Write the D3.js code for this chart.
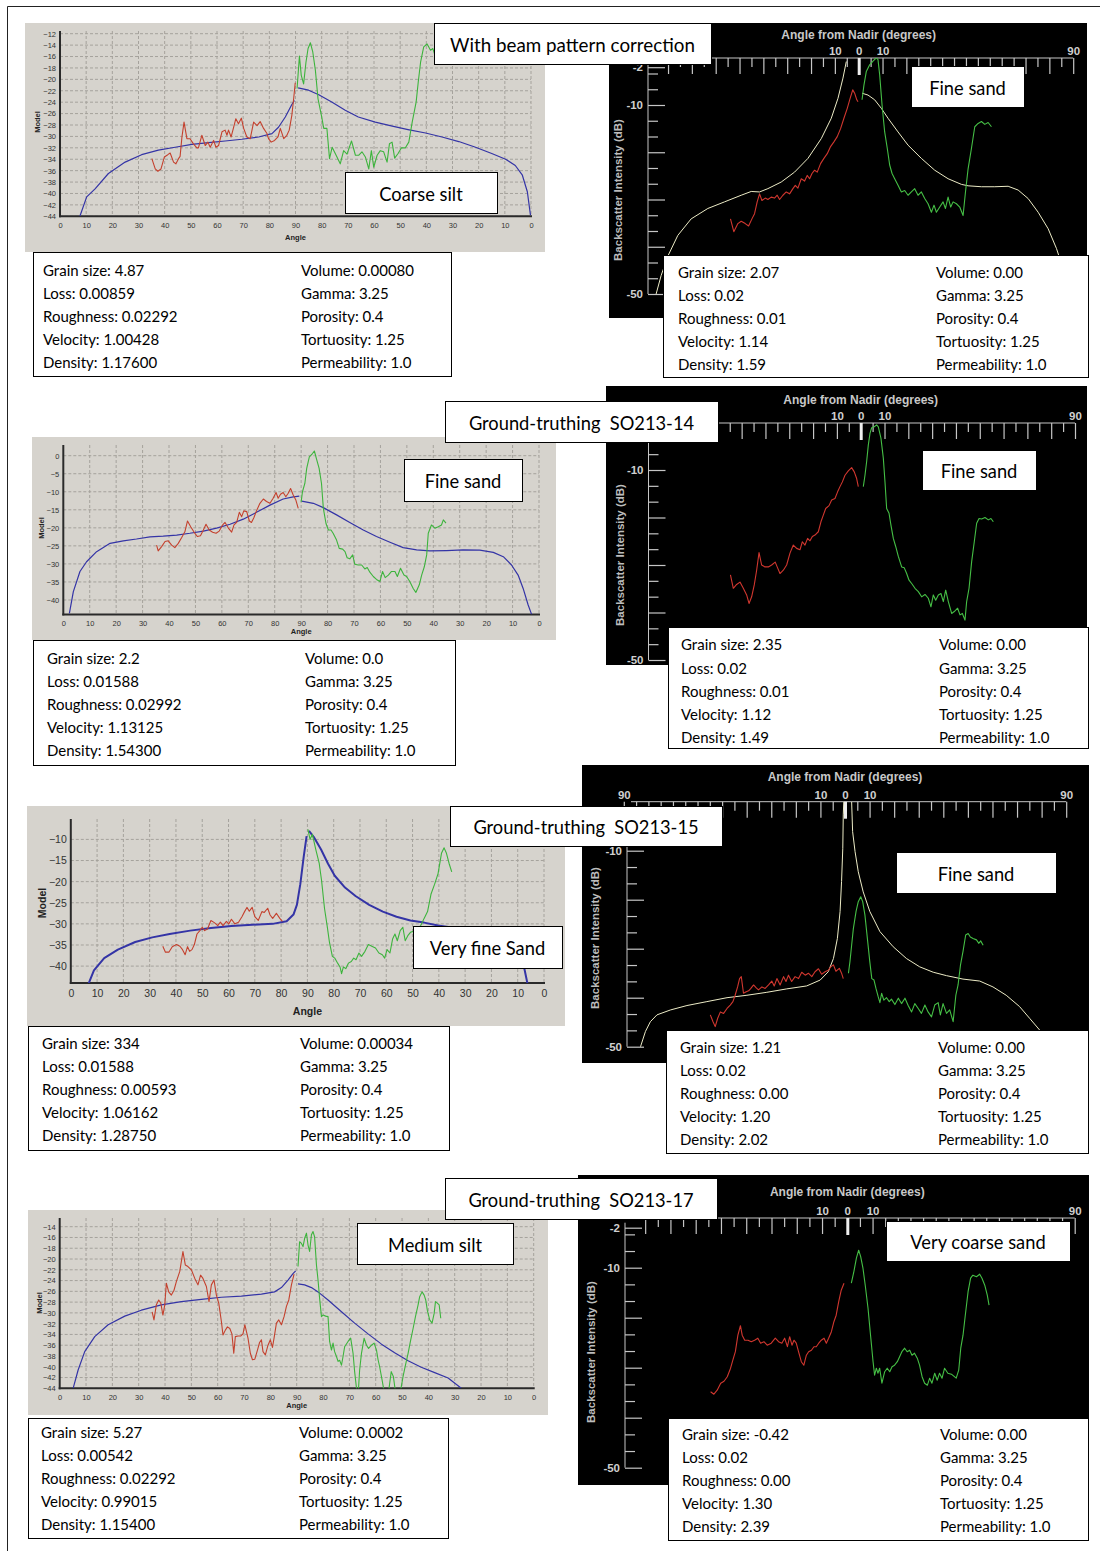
<!DOCTYPE html>
<html><head><meta charset="utf-8">
<script src="https://cdn.jsdelivr.net/npm/d3@7"></script>
<style>
html,body{margin:0;padding:0;background:#fff;}
svg{display:block;}
</style></head><body>
<svg id="fig" width="1100" height="1551"></svg>
<script>
// ===================== data =====================
// Composite angle axis of the model plots: 0..90 (port) then 90..0 (starboard)
const greyAngleTicks = d3.range(0, 181, 10);
const greyAngleLabels = ["0","10","20","30","40","50","60","70","80","90","80","70","60","50","40","30","20","10","0"];
const nadirTickValues = d3.range(-90, 91, 5);

// --- Coarse silt model (row 1) : [angle, dB]
const coarseSiltModelPort = [[7.6,-44],[10.2,-40.6],[13.4,-39.2],[18.5,-36.5],[24.9,-34.5],[31.2,-33.2],[37.6,-32.4],[44,-31.9],[50.4,-31.4],[56.8,-31.1],[63.1,-30.8],[69.5,-30.5],[75.9,-30.1],[81,-29.5],[83.5,-28.4],[86.1,-26.6],[88.6,-24.4],[89.6,-23.7]];
const coarseSiltModelStbd = [[89,-21.5],[85,-21.9],[81.1,-22.7],[76,-24],[71,-25.4],[66,-26.6],[59.5,-27.5],[53,-28.2],[47,-28.8],[40.3,-29.4],[34,-30.1],[27.6,-30.9],[21.2,-31.9],[15,-33],[9.7,-34],[6,-35.1],[3.3,-36.8],[1.4,-39.7],[0.2,-43.8]];
const coarseSiltPort = [[35.1,-33.9],[36.4,-35.7],[37.4,-36.1],[38.6,-35.7],[39.9,-33.6],[41.2,-33.2],[42.1,-32.9],[43.4,-34.5],[44.3,-34.8],[45.3,-33.9],[45.9,-33.5],[46.6,-30.1],[47.4,-27.5],[48.5,-30.4],[49.7,-30.4],[51,-31.3],[52.3,-32],[52.9,-32],[54.2,-29.8],[55.5,-31.6],[56.5,-31],[57.4,-31.9],[58.7,-30.7],[59.6,-31.9],[60.6,-31.6],[61.9,-29.2],[63.1,-28.9],[63.8,-29.8],[64.4,-28.9],[65.4,-30.1],[66.3,-28.5],[67.2,-26.9],[68.2,-27.8],[69.3,-26.8],[70.2,-28.6],[71.4,-30.1],[72.7,-30.4],[74,-27.5],[75.3,-28.1],[76.5,-27.4],[77.8,-28.6],[79.1,-29.5],[79.7,-30.4],[80.7,-31],[82,-30.7],[83.3,-30.1],[84.2,-28.6],[85.5,-30.4],[86.7,-29.8],[87.6,-28.9],[88.6,-26.3],[89.3,-23.4],[89.9,-20.6]];
const coarseSiltStbd = [[89.4,-21.6],[88.5,-15.9],[87.8,-19.3],[86.9,-20.8],[86,-17],[85.2,-14.6],[84.3,-13.6],[83.4,-15.2],[82.4,-18.4],[81.4,-23.4],[80.1,-26.3],[79.2,-28.6],[78,-28.6],[77,-33.9],[76,-31.9],[74.8,-33],[72.9,-34.8],[71.6,-32.5],[70.3,-33.1],[68.6,-30.8],[67.1,-33.3],[65.8,-33.3],[64.6,-32.7],[63.3,-33.6],[62,-35.7],[61,-32.5],[60.1,-35.4],[58.8,-33.3],[57.6,-32.5],[56.3,-32.7],[55,-34.5],[54.1,-31.3],[53.1,-31],[52.1,-33.8],[50.8,-33],[49.5,-32],[48,-32],[46.7,-31],[45.4,-27.5],[43.9,-24],[43.1,-20.5],[42.2,-17],[41,-14.3],[39.7,-13.8],[38.4,-14.9],[37.5,-14.6],[36.7,-15.8],[35.5,-16.2]];

// --- Fine sand observation (row 1) : [angle from nadir, dB]
const fineSandAModelPort = [[-85,-50],[-82.9,-46.1],[-80,-41.9],[-75.9,-37.6],[-70.3,-34.1],[-63.3,-31.9],[-56.3,-30.5],[-49.3,-29.1],[-45.1,-28.3],[-41.6,-28.4],[-38.1,-27.7],[-32.5,-26.3],[-26.9,-24.2],[-21.3,-21.3],[-15.7,-17.1],[-11.5,-12.8],[-8.7,-8.6],[-6.6,-4.3],[-5.2,-0.8]];
const fineSandAModelStbd = [[1.4,-7.5],[3.9,-7.9],[6.7,-8.9],[9.5,-10.7],[12.3,-12.8],[16.5,-15.7],[20.7,-18.5],[26.3,-21.3],[31.9,-23.8],[37.5,-25.6],[43.1,-26.8],[45.9,-27.1],[51.5,-27.3],[57.1,-27.3],[62.7,-27.2],[66.9,-28],[71.1,-29.8],[75.3,-32.7],[79.5,-36.2],[83,-40.4],[85.8,-44.7],[87.9,-48.9]];
const fineSandAPort = [[-53.8,-34.1],[-52.4,-36.8],[-50.7,-35.1],[-49.3,-34.6],[-47.6,-35.1],[-46.2,-35.6],[-44.8,-34.1],[-43.7,-33],[-42.6,-30.5],[-41.6,-28.8],[-40.6,-30.2],[-39.2,-29.7],[-38.1,-30],[-36.7,-29.5],[-35.3,-29.7],[-34.2,-29.1],[-33.2,-30],[-31.8,-29.1],[-30.4,-28.4],[-29,-28.8],[-27.6,-27.7],[-26.6,-27],[-25.5,-27.6],[-24.1,-25.6],[-22.7,-26.1],[-21.6,-24.9],[-20.6,-25.6],[-19.6,-24.5],[-18.5,-23.8],[-17.4,-24.2],[-16,-22.4],[-14.6,-21.3],[-13.2,-20.3],[-11.8,-18.8],[-10.4,-17.8],[-9,-16.7],[-7.6,-15],[-6.2,-12.8],[-4.8,-10.7],[-3.6,-8.6],[-2.5,-6.8],[-1.7,-7.5],[-0.8,-8.9],[-0.3,-9.3]];
const fineSandAStbd = [[1.4,-8.9],[2.2,-5.8],[3.2,-2.9],[4.6,-1.5],[6,-0.7],[7.4,0],[8.1,-0.4],[8.8,-3.6],[9.8,-10],[10.9,-15.7],[12,-19.2],[13,-22.7],[14,-24.5],[15.1,-25.6],[16.5,-27],[17.9,-28.4],[19.3,-28.1],[20.7,-29.1],[22.1,-28.4],[23.5,-27.7],[24.9,-29.1],[26.3,-28.4],[27.7,-29.8],[29.1,-30.9],[30.5,-32.7],[31.6,-31.2],[32.6,-32.7],[34,-31.6],[35.4,-30.5],[36.4,-31.9],[37.5,-29.5],[38.6,-31.6],[39.6,-30.5],[41,-30.9],[42.4,-31.6],[43.8,-33.4],[44.8,-28.4],[45.9,-23.5],[47.3,-19.2],[48.7,-14.6],[50.1,-13.9],[51.5,-13.5],[52.9,-14.1],[54.3,-13.7],[55.7,-14.6]];

// --- Fine sand model (row 2, SO213-14)
const fineSandModelPort = [[2.3,-43.7],[3.8,-37.7],[6.3,-32.1],[8.8,-29.4],[12.6,-26.6],[17.7,-24.3],[22.7,-23.6],[27.7,-23.1],[32.8,-22.5],[37.8,-22.3],[42.9,-22],[47.9,-21.5],[53,-20.9],[58,-20.1],[63.1,-19],[68.1,-17.6],[73.1,-15.7],[78.2,-13.7],[83.2,-12],[87,-11.4],[89.3,-11.2]];
const fineSandModelStbd = [[89.8,-12.6],[85.4,-13.2],[81.6,-14.4],[76.6,-16.4],[71.6,-18.5],[66.5,-20.6],[61.5,-22.4],[56.4,-24],[51.4,-25.5],[46.3,-26.1],[41.3,-26.4],[35,-26.3],[28.7,-26.1],[22.4,-26.2],[17.3,-26.8],[13.5,-28],[10.4,-30.3],[7.9,-33.1],[6,-36.8],[4.1,-41.4],[2.8,-44]];
const fineSandPort = [[35.3,-24.8],[35.9,-26.4],[37.2,-25.2],[38.5,-23.8],[39.7,-23.6],[41,-24.8],[42.2,-25.5],[43.5,-24.3],[44.8,-22.7],[46,-21.1],[47,-18.1],[48.2,-19.7],[49.4,-21.1],[50.7,-22.4],[51.9,-22.2],[53,-20.6],[54,-19],[55.2,-20.6],[56.5,-21.2],[57.8,-21.5],[59,-20.9],[60.3,-19.2],[61.2,-18.5],[62.4,-20],[63.7,-21.2],[64.6,-19.2],[65.6,-18.5],[66.6,-15.7],[67.5,-16.9],[68.3,-15.3],[69.4,-15.5],[70.4,-18.1],[71.2,-18.5],[72.1,-17.2],[73.1,-15.3],[74.4,-13.2],[75.7,-12],[76.9,-12.7],[78.2,-13.2],[79.4,-11.8],[80.5,-10.2],[81.3,-11.8],[82.2,-10.7],[83.2,-10.2],[84.2,-11.4],[85.1,-10.4],[86,-9.1],[87,-10.9],[88,-12.3],[88.9,-14.6]];
const fineSandStbd = [[90,-12.8],[89.5,-10],[88.6,-7.7],[87.9,-3.5],[86.9,-0.3],[85.7,0.6],[85,1.3],[84.2,-0.9],[83.2,-3.5],[82.3,-7.7],[81.6,-14.6],[80.6,-18.8],[79.7,-20.6],[78.7,-20.6],[77.9,-21.5],[76.6,-23.4],[75.6,-25.7],[74.3,-25.9],[73.4,-26.6],[72.6,-28.3],[71.6,-28.6],[70.5,-27.5],[69.7,-30.1],[68.4,-30.3],[67.1,-30.3],[65.9,-31.4],[65,-31],[64,-32.3],[62.7,-33.5],[61.5,-34.3],[60.2,-34.9],[59.2,-32.1],[58.2,-33.8],[57,-33.1],[55.8,-32.1],[54.5,-32.1],[53.6,-33.5],[52.4,-31.2],[51.1,-33.1],[50.1,-33.5],[48.9,-34.9],[47.6,-36.8],[46.6,-37.9],[45.3,-35.8],[44.4,-33.1],[43.4,-30.8],[42.5,-27.5],[41.9,-21.5],[40.7,-19.2],[39.4,-20.1],[38.1,-19.7],[36.9,-19.2],[36.2,-17.8],[35.2,-18.7]];

// --- Fine sand observation (row 2, SO213-14)
const fineSandBPort = [[-54.7,-32.1],[-53.5,-34.9],[-52.1,-34.1],[-50.7,-33.6],[-49.3,-34.9],[-47.9,-36.3],[-46.9,-38.1],[-45.8,-36.7],[-44.7,-34.2],[-43.7,-31.1],[-42.7,-27.4],[-41.6,-30],[-40.2,-30.4],[-38.8,-30.4],[-37.4,-30],[-35.9,-29.4],[-34.9,-30.6],[-33.9,-31.8],[-32.5,-31.1],[-31.1,-30],[-29.7,-27.5],[-28.3,-25.8],[-26.9,-26.5],[-25.5,-26.8],[-24.5,-25.1],[-23.4,-25.8],[-22.3,-24.4],[-21.3,-24.9],[-20.3,-24],[-19.2,-23.7],[-17.8,-23],[-16.7,-20.9],[-15.7,-19.5],[-14.7,-18.1],[-13.3,-17.5],[-12.2,-16.3],[-10.8,-16],[-9.7,-14.6],[-8.7,-13.5],[-7.7,-12.5],[-6.6,-11.1],[-5.2,-10.2],[-3.8,-9.5],[-2.7,-10.4],[-1.7,-11.8],[-1,-13.5]];
const fineSandBStbd = [[1.1,-13.5],[1.8,-11.1],[2.5,-8.2],[3.2,-4.7],[3.9,-2.3],[4.6,-1.1],[5.7,-0.9],[6.7,-0.5],[7.4,-0.9],[8.5,-3.3],[9.5,-7.5],[10.2,-12.5],[10.9,-18.1],[11.9,-19.1],[12.7,-21.6],[13.7,-24.4],[14.7,-26.1],[15.8,-28.2],[17.2,-30.4],[18.3,-30.6],[19.3,-31.8],[20.3,-33.2],[21.4,-33.9],[22.8,-34.9],[24.2,-35.6],[25.6,-36.7],[27,-36.2],[28.4,-37],[29.5,-38.8],[30.5,-36.3],[31.5,-37.4],[32.6,-36.3],[33.7,-36],[34.7,-37.7],[35.7,-35.3],[36.8,-37.7],[38.2,-40.2],[39.3,-39.8],[40.7,-39.1],[41.7,-40.5],[42.7,-40.2],[43.8,-41.6],[44.5,-37.7],[45.5,-34.9],[46.6,-29.3],[47.7,-25.1],[48.7,-21.2],[49.7,-20.2],[50.8,-20.3],[52.2,-20],[53.6,-20.5],[54.7,-20.2],[55.7,-20.9]];

// --- Very fine sand model (row 3, SO213-15)
const veryFineModelPort = [[6.8,-44.1],[8.8,-41],[12.7,-38.1],[17.9,-36.1],[24.5,-34.3],[31,-33.2],[37.6,-32.4],[45.4,-31.6],[53.3,-31],[61.1,-30.5],[69,-30.2],[76.8,-30],[82.1,-29.4],[84.7,-27.8],[86,-25.5],[87.3,-20.6],[88.6,-14.1],[89.7,-9.2]];
const veryFineModelStbd = [[89.4,-8],[87.4,-9.6],[84.8,-12.4],[82.2,-15.7],[79.6,-18.6],[75.7,-21.4],[71.7,-23.4],[66.5,-25.5],[61.3,-27.1],[56.1,-28.3],[50.8,-29.2],[45.6,-29.7],[40.3,-30.4],[33.8,-31],[27.2,-31.6],[20.7,-32.4],[14.1,-34],[10.2,-36.9],[7.6,-40.2],[6.3,-44.1]];
const veryFinePort = [[35,-35.3],[36,-36.7],[37.3,-36.7],[38.6,-35.4],[40.2,-34.9],[41.5,-35.3],[42.5,-36.1],[43.5,-37.3],[44.4,-35.4],[45.2,-36.5],[46.1,-36.1],[47,-34.9],[48,-32.4],[49.1,-31.6],[50,-30.8],[50.9,-31.6],[52,-31.2],[53.3,-29.2],[54.6,-29.7],[55.9,-30.4],[56.9,-29.6],[57.9,-30.4],[59.2,-29.4],[60.1,-30],[61.1,-28.9],[62.4,-30],[63.8,-29.6],[65.1,-28.3],[66.1,-27.1],[67,-26.1],[67.9,-27],[69,-26.1],[70,-28.3],[71.3,-29.2],[72.7,-27.1],[73.6,-27.3],[74.9,-26.3],[75.8,-27.9],[76.8,-28.7],[78.2,-27.5],[79.5,-28.7],[80.5,-29.4]];
const veryFineStbd = [[89.8,-7.6],[89,-10],[88.1,-8.8],[86.8,-12.4],[85.5,-15.7],[84.6,-19.8],[83.5,-26.3],[82.5,-30.4],[81.6,-34.4],[80.5,-37.7],[79.6,-38.1],[78.5,-39.3],[77.6,-40.2],[77,-41.8],[76.3,-40.2],[75.4,-40.6],[74.4,-39.3],[73.3,-38.9],[72.4,-38.1],[71.5,-38.5],[70.4,-36.9],[69.4,-37.7],[68.1,-36.5],[66.8,-34.9],[65.5,-35.3],[64.1,-35.7],[62.8,-36.9],[61.5,-37.3],[60.6,-38.1],[59.7,-36.1],[58.6,-36.9],[57.6,-33.6],[56.7,-32.4],[55.8,-34],[54.7,-31.6],[53.7,-30.8],[52.8,-34],[51.8,-32.8],[50.8,-32],[48.8,-31.6],[46.9,-30.4],[45.6,-28.7],[44.3,-27.1],[43,-23],[41.6,-20.6],[40.3,-18.1],[39,-13.3],[38,-12],[37.1,-13.3],[36.1,-15.7],[35.1,-17.7]];

// --- Fine sand observation (row 3, SO213-15)
const fineSandCModelPort = [[-83.2,-50],[-81.2,-46.9],[-79.2,-44.9],[-76.5,-43.5],[-71,-42.5],[-64.3,-41.6],[-56.2,-40.8],[-48,-40],[-39.9,-39.5],[-31.8,-38.9],[-23.7,-38.2],[-15.6,-37.6],[-10.1,-36.4],[-6.8,-34.7],[-4.7,-32],[-3.1,-27.9],[-2,-22.4],[-1.4,-16.3],[-0.9,-9.5],[-0.7,-2.7],[-0.5,0]];
const fineSandCModelStbd = [[2.7,0],[3.1,-6.1],[4.1,-10.2],[5.4,-14.3],[7.4,-18.4],[10.1,-22.4],[14.2,-26.5],[19.6,-29.6],[25,-32],[30.4,-33.7],[35.9,-34.8],[41.3,-35.5],[48,-36.2],[54.8,-36.6],[60.2,-37.8],[65.6,-39.5],[71,-41.8],[75.1,-44.2],[79.2,-46.6]];
const fineSandCPort = [[-54.8,-43.5],[-53.7,-44.9],[-52.8,-45.9],[-51.8,-44.2],[-50.7,-42.9],[-49.4,-43.2],[-48,-42.2],[-46.7,-41.5],[-45.6,-40.8],[-44.7,-39.5],[-43.7,-37.8],[-42.9,-36.1],[-42.2,-35.7],[-41.3,-39.1],[-40.2,-38.8],[-39.2,-38.6],[-38.3,-38.1],[-37.2,-37.4],[-36.1,-38],[-35.2,-38.4],[-33.8,-37.8],[-32.5,-38.1],[-31.1,-37.4],[-29.8,-36.6],[-28.8,-37.6],[-27.7,-36.1],[-26.4,-37.4],[-25,-35.7],[-24,-36.7],[-23,-35.4],[-21.7,-36.7],[-20.3,-35.7],[-18.9,-36.1],[-17.6,-34.8],[-16.2,-35.4],[-14.9,-35],[-13.5,-35.7],[-12.2,-34.7],[-10.8,-34.1],[-9.5,-35.2],[-8.1,-34.7],[-6.8,-34.4],[-5.8,-33.7],[-4.7,-33.3],[-3.7,-34.6],[-2.3,-34],[-1.4,-35],[-0.7,-36.1]];
const fineSandCStbd = [[1.4,-35],[2,-32.7],[2.7,-29.3],[3.4,-25.9],[4.5,-22.4],[5.4,-20.4],[6.4,-19.4],[7.2,-20.4],[8.1,-23.1],[9.1,-27.9],[10.1,-32.7],[10.9,-36.1],[11.8,-36.4],[12.6,-38.1],[13.5,-39.8],[14.2,-41],[14.9,-39.1],[15.8,-40.5],[16.9,-40],[18,-40.8],[18.9,-40.3],[20.3,-41.4],[21.7,-40.1],[23,-41.2],[24.4,-40.1],[25.7,-41.6],[27.1,-42.9],[28.4,-41.2],[29.8,-42.2],[31.1,-43.2],[32.5,-41.5],[33.8,-42.9],[35.2,-43.9],[36.5,-41.5],[37.9,-41],[38.8,-43.5],[39.9,-41.2],[41.3,-43.2],[42.6,-42.5],[44,-44.9],[45.1,-39.5],[46,-37.4],[47,-33.3],[48,-30.6],[49.1,-27.2],[50.1,-26.9],[51,-27.6],[52.1,-27.9],[53.5,-28.2],[54.4,-28.9],[55.2,-28.4],[56.2,-29.3]];

// --- Medium silt model (row 4, SO213-17)
const mediumSiltModelPort = [[5.1,-44],[7,-40.6],[9.5,-37.2],[13.3,-34.4],[18.4,-32.2],[24.7,-30.6],[31,-29.5],[38.6,-28.5],[46.2,-27.9],[53.8,-27.5],[61.4,-27.1],[69,-26.9],[76.6,-26.5],[81.6,-26.1],[84.2,-25.3],[86.7,-23.9],[88.6,-22.7],[89.6,-22.2]];
const mediumSiltModelStbd = [[89.5,-24.6],[87,-24.8],[84.4,-25.3],[81.9,-26.1],[78.1,-27.6],[73,-29.8],[68,-31.9],[62.9,-33.9],[57.8,-35.8],[52.8,-37.4],[47.7,-38.9],[42.7,-40.1],[37.6,-41.1],[32.5,-42.1],[27.5,-44]];
const mediumSiltPort = [[35.1,-29.8],[35.8,-31.3],[36.7,-28.5],[37.6,-27.6],[38.4,-28.2],[39.2,-30.4],[39.9,-28.5],[40.5,-24.5],[41.4,-26.1],[42.4,-26.7],[43.4,-25.8],[44.3,-24.2],[45.6,-22.3],[46.8,-18.6],[47.7,-21.1],[48.7,-21.4],[50,-22],[51.3,-23.6],[52.5,-24.8],[53.5,-23],[54.4,-23.6],[55.7,-25.1],[56.7,-27.9],[57.6,-24.8],[58.6,-23.9],[59.5,-26.7],[60.4,-28.2],[61.4,-31.6],[62,-34.1],[62.9,-33.2],[63.7,-32.6],[64.6,-32.9],[65.4,-33.9],[66.1,-37.5],[66.7,-34.4],[67.7,-34.3],[68.7,-34.3],[69.6,-33.9],[70.3,-32.2],[71.5,-34.7],[72.4,-37.5],[73.2,-38.7],[74.1,-38.6],[75.1,-36.9],[75.9,-35.5],[76.6,-35],[77.2,-37.2],[78.1,-37.8],[79.1,-36],[80,-35],[80.8,-36.4],[81.4,-34.7],[82.3,-31.9],[83.2,-31.3],[84.2,-32.2],[85.2,-30.7],[86.1,-28.8],[87,-27.6],[88,-24.8],[89,-22.8]];
const mediumSiltStbd = [[89.5,-21.4],[88.9,-16.8],[88.2,-17.1],[87.6,-17.7],[87,-16.2],[86.3,-15.2],[85.7,-17.4],[85.1,-18.6],[84.4,-15.5],[83.8,-14.9],[83.2,-15.9],[82.5,-21.1],[81.9,-23.9],[81.3,-27.3],[80.6,-30.7],[80,-30.4],[79,-30.6],[78.1,-30.7],[77.5,-35.3],[76.8,-36.9],[76.2,-35.6],[75.6,-37.2],[74.9,-38.1],[74.3,-39],[73.7,-38.8],[73,-39.7],[72.4,-38.1],[71.8,-36.3],[70.5,-35.3],[69.5,-34.7],[68.6,-37.5],[68,-40.9],[67.3,-44],[66.7,-45.5],[66.1,-40.6],[65.4,-37.5],[64.4,-34.7],[63.5,-36],[62.7,-36.6],[61.6,-36],[60.6,-35.6],[59.7,-36.9],[59.1,-38.7],[58.5,-40],[57.6,-42.4],[56.8,-44.6],[56,-45.5],[55.1,-44.6],[54.1,-40.9],[53.3,-41.8],[52.5,-44.6],[51.5,-45.5],[50.5,-44.3],[49.6,-41.8],[48.7,-39.7],[47.7,-37.5],[46.7,-35],[45.8,-32.9],[44.9,-30.7],[43.9,-28.5],[43.3,-27],[42.4,-26.1],[41.6,-26.7],[41,-27.6],[40.4,-29.5],[39.5,-31.3],[38.6,-31.9],[37.8,-30.1],[37.3,-27.9],[36.6,-28.2],[35.9,-28.5],[35.3,-31]];

// --- Very coarse sand observation (row 4, SO213-17)
const veryCoarsePort = [[-54.1,-34.8],[-52.8,-35.3],[-51.5,-34.5],[-50.1,-33.1],[-48.8,-32.7],[-47.5,-31.8],[-46.2,-30.1],[-45.3,-28.5],[-44.3,-26.8],[-43.3,-23.5],[-42.3,-21.6],[-41.6,-23.5],[-40.6,-24.5],[-39.3,-24.5],[-38,-24.8],[-36.7,-24.5],[-35.4,-24.1],[-34.3,-25.1],[-33,-24.8],[-31.7,-25.5],[-30.1,-25.1],[-28.5,-24.1],[-27.2,-24.8],[-25.9,-25.1],[-24.8,-24.1],[-23.7,-25.8],[-22.8,-23.8],[-21.9,-25.5],[-21.1,-24.5],[-20.2,-25.1],[-19.3,-26.8],[-18.2,-28.8],[-17.2,-29.5],[-16.2,-27.5],[-15.3,-26.8],[-14.2,-26.5],[-13.2,-25.8],[-12.3,-25.8],[-11.3,-25.1],[-10.3,-24.5],[-9.2,-24.1],[-8.3,-25.1],[-7.4,-24.1],[-6.3,-22.8],[-5.3,-20.8],[-4.4,-19.5],[-3.4,-16.8],[-2.4,-14.5],[-1.3,-13.1]];
const veryCoarseStbd = [[1.6,-13.1],[2.6,-10.8],[3.6,-8.1],[4.5,-6.5],[5.3,-7.8],[6.2,-10.1],[7.1,-13.5],[8.2,-18.1],[9.2,-23.5],[10.2,-28.8],[10.8,-31.5],[11.5,-30.1],[12.1,-31.1],[12.8,-30.1],[13.7,-33.1],[14.8,-30.8],[15.8,-30.1],[16.8,-30.8],[17.7,-29.8],[18.7,-29.5],[19.8,-28.8],[20.7,-27.8],[21.6,-26.8],[22.7,-26.1],[23.7,-26.8],[24.7,-26.5],[25.6,-27.5],[26.6,-27.1],[27.7,-28.1],[28.6,-29.5],[29.6,-31.8],[30.6,-33.1],[31.7,-33.5],[32.6,-32.1],[33.5,-33.1],[34.6,-31.1],[35.6,-32.5],[36.5,-31.1],[37.5,-32.1],[38.5,-30.1],[39.8,-31.1],[41.2,-31.3],[43.1,-32.1],[44.1,-30.5],[44.9,-26.1],[45.8,-23.5],[46.7,-19.5],[47.8,-14.8],[48.8,-12.1],[49.7,-11.5],[51.1,-11.8],[52.4,-11.3],[53.3,-12.1],[54.4,-13.5],[55.4,-15.5],[56.1,-17.5]];

// --- Parameter boxes
const leftParamNames = ["Grain size", "Loss", "Roughness", "Velocity", "Density"];
const rightParamNames = ["Volume", "Gamma", "Porosity", "Tortuosity", "Permeability"];
const coarseSiltParams = ["4.87","0.00859","0.02292","1.00428","1.17600","0.00080","3.25","0.4","1.25","1.0"];
const fineSandAParams  = ["2.07","0.02","0.01","1.14","1.59","0.00","3.25","0.4","1.25","1.0"];
const fineSandParams   = ["2.2","0.01588","0.02992","1.13125","1.54300","0.0","3.25","0.4","1.25","1.0"];
const fineSandBParams  = ["2.35","0.02","0.01","1.12","1.49","0.00","3.25","0.4","1.25","1.0"];
const veryFineParams   = ["334","0.01588","0.00593","1.06162","1.28750","0.00034","3.25","0.4","1.25","1.0"];
const fineSandCParams  = ["1.21","0.02","0.00","1.20","2.02","0.00","3.25","0.4","1.25","1.0"];
const mediumSiltParams = ["5.27","0.00542","0.02292","0.99015","1.15400","0.0002","3.25","0.4","1.25","1.0"];
const veryCoarseParams = ["-0.42","0.02","0.00","1.30","2.39","0.00","3.25","0.4","1.25","1.0"];

// --- Captions
const rowTitles = ["With beam pattern correction", "Ground-truthing  SO213-14", "Ground-truthing  SO213-15", "Ground-truthing  SO213-17"];
const modelClasses = ["Coarse silt", "Fine sand", "Very fine Sand", "Medium silt"];
const observedClasses = ["Fine sand", "Fine sand", "Fine sand", "Very coarse sand"];

// ===================== styles =====================
const COL = {
  greyBg: "#d6d3cd", grid: "#a5a29c", axis: "#2a2a2a", tick: "#333",
  blue: "#3434a6", red: "#c4412e", green: "#3db43d",
  bRed: "#d0372f", bGreen: "#45be45", bModel: "#ecebc6", bAxis: "#c6c6c6"
};
const BOX_FONT = "Lato, 'Open Sans', 'Liberation Sans', sans-serif";
const AX_FONT = "'Liberation Sans', Arial, sans-serif";

const svg = d3.select("#fig");
svg.append("rect").attr("width", 1100).attr("height", 1551).attr("fill", "#fff");
// outer frame (top and left rules)
svg.append("path").attr("d", "M7.5,1551 V6.5 H1100").attr("fill", "none").attr("stroke", "#222").attr("stroke-width", 1);

let clipId = 0;
function addClip(x, y, w, h) {
  const id = "clip" + (clipId++);
  svg.append("clipPath").attr("id", id).append("rect").attr("x", x).attr("y", y).attr("width", w).attr("height", h);
  return "url(#" + id + ")";
}
function drawSeries(g, data, xf, y, color, width) {
  g.append("path").datum(data)
    .attr("fill", "none").attr("stroke", color).attr("stroke-width", width)
    .attr("stroke-linejoin", "round")
    .attr("d", d3.line().x(d => xf(d[0])).y(d => y(d[1])));
}

// ---------- model plot (grey window) ----------
function greyPanel(c) {
  const g = svg.append("g");
  g.append("rect").attr("x", c.bg[0]).attr("y", c.bg[1]).attr("width", c.bg[2]).attr("height", c.bg[3]).attr("fill", COL.greyBg);
  const x = d3.scaleLinear().domain([0, 180]).range([c.x0, c.x1]);
  const y = d3.scaleLinear().domain([-44, c.yTicks[0]]).range([c.yB, c.yT]);
  // grid
  g.append("g").selectAll("line").data(greyAngleTicks.slice(1)).join("line")
    .attr("x1", d => x(d)).attr("x2", d => x(d)).attr("y1", c.top).attr("y2", y(-44))
    .attr("stroke", COL.grid).attr("stroke-width", 1).attr("stroke-dasharray", "3,2");
  g.append("g").selectAll("line").data(c.yTicks).join("line")
    .attr("x1", c.x0).attr("x2", c.x1).attr("y1", d => y(d)).attr("y2", d => y(d))
    .attr("stroke", COL.grid).attr("stroke-width", 1).attr("stroke-dasharray", "3,2");
  // axes
  const ya = g.append("g").attr("transform", `translate(${c.x0},0)`)
    .call(d3.axisLeft(y).tickValues(c.yTicks).tickSize(0).tickPadding(4));
  ya.select(".domain").remove();
  ya.selectAll("text").attr("font-family", AX_FONT).attr("font-size", c.fs).attr("fill", COL.tick);
  const xa = g.append("g").attr("transform", `translate(0,${y(-44)})`)
    .call(d3.axisBottom(x).tickValues(greyAngleTicks).tickFormat((d, i) => greyAngleLabels[i]).tickSize(0).tickPadding(c.xPad));
  xa.select(".domain").remove();
  xa.selectAll("text").attr("font-family", AX_FONT).attr("font-size", c.fs).attr("fill", COL.tick);
  g.append("line").attr("x1", c.x0).attr("x2", c.x0).attr("y1", c.top).attr("y2", y(-44) + 1)
    .attr("stroke", COL.axis).attr("stroke-width", 2);
  g.append("line").attr("x1", c.x0 - 1).attr("x2", c.x1 + 1).attr("y1", y(-44)).attr("y2", y(-44))
    .attr("stroke", COL.axis).attr("stroke-width", 2);
  g.append("text").attr("x", (c.x0 + c.x1) / 2).attr("y", c.angleY).attr("text-anchor", "middle")
    .attr("dominant-baseline", "central").attr("font-family", AX_FONT).attr("font-weight", "bold")
    .attr("font-size", c.fs).attr("fill", "#222").text("Angle");
  g.append("text").attr("transform", `translate(${c.modelX},${c.modelY}) rotate(-90)`).attr("text-anchor", "middle")
    .attr("dominant-baseline", "central").attr("font-family", AX_FONT).attr("font-weight", "bold")
    .attr("font-size", c.fs).attr("fill", "#222").text("Model");
  // curves
  const lg = g.append("g").attr("clip-path", addClip(c.x0, c.top, c.x1 - c.x0, y(-44) - c.top));
  const xp = a => x(a), xs = a => x(180 - a);
  drawSeries(lg, c.modelPort, xp, y, COL.blue, c.mw);
  drawSeries(lg, c.modelStbd, xs, y, COL.blue, c.mw);
  drawSeries(lg, c.port, xp, y, COL.red, 1.1);
  drawSeries(lg, c.stbd, xs, y, COL.green, 1.1);
}

// ---------- observed backscatter (black window) ----------
function blackPanel(c) {
  const g = svg.append("g");
  g.append("rect").attr("x", c.bg[0]).attr("y", c.bg[1]).attr("width", c.bg[2]).attr("height", c.bg[3]).attr("fill", "#000");
  const x = d3.scaleLinear().domain([-90, 90]).range([c.xL, c.xR]);
  const y = d3.scaleLinear().domain([-50, -10]).range([c.y50, c.y10]);
  const tickStart = c.tickStart || (c.yAxisX + 8);
  // top angle axis
  const xa = g.append("g").attr("transform", `translate(0,${c.axisTop})`)
    .call(d3.axisTop(x).tickValues(nadirTickValues.filter(v => x(v) > tickStart || c.angleLabels.includes(v)))
      .tickFormat(d => c.angleLabels.includes(d) ? Math.abs(d) : "").tickSizeInner(-16).tickSizeOuter(0).tickPadding(3));
  xa.select(".domain").attr("d", `M${Math.max(x(-90), tickStart - 4)},0H${x(90)}`).attr("stroke", COL.bAxis);
  xa.selectAll(".tick line").attr("stroke", COL.bAxis).attr("stroke-width", 1.2)
    .attr("y2", d => (x(d) <= tickStart && d !== -90) ? 0 : (d === 0 ? 17 : (d % 10 === 0 ? 16 : 9)));
  xa.selectAll(".tick").filter(d => d === 0).select("line").attr("stroke-width", 3).attr("stroke", "#eee");
  xa.selectAll("text").attr("font-family", AX_FONT).attr("font-weight", "bold").attr("font-size", 11.5)
    .attr("fill", "#cfcfcf").attr("dy", "0");
  g.append("text").attr("x", x(0)).attr("y", c.titleY).attr("text-anchor", "middle").attr("dominant-baseline", "central")
    .attr("font-family", AX_FONT).attr("font-weight", "bold").attr("font-size", 12).attr("fill", "#c8c8c8")
    .text("Angle from Nadir (degrees)");
  // left dB axis
  const dbTicks = d3.range(0, 15).map(i => -50 + i * 10 / 3).concat([-2]);
  const ya = g.append("g").attr("transform", `translate(${c.yAxisX},0)`)
    .call(d3.axisLeft(y).tickValues(dbTicks).tickFormat(d => c.dbLabels.includes(d) ? d : "")
      .tickSizeInner(-17).tickSizeOuter(0).tickPadding(5));
  ya.select(".domain").attr("d", `M0,${y(-1)}V${y(-50)}`).attr("stroke", COL.bAxis);
  ya.selectAll(".tick line").attr("stroke", COL.bAxis).attr("stroke-width", 1.2)
    .attr("x2", d => (Math.abs(d % 10) < 0.01 || d === -2) ? 17 : 10);
  ya.selectAll("text").attr("font-family", AX_FONT).attr("font-weight", "bold").attr("font-size", 11.5).attr("fill", "#cfcfcf");
  g.append("text").attr("transform", `translate(${c.yTitleX},${c.yTitleY}) rotate(-90)`).attr("text-anchor", "middle")
    .attr("dominant-baseline", "central").attr("font-family", AX_FONT).attr("font-weight", "bold")
    .attr("font-size", 11.5).attr("fill", "#bdbdbd").text("Backscatter Intensity (dB)");
  // curves
  const lg = g.append("g").attr("clip-path", addClip(c.yAxisX, c.axisTop, c.bg[0] + c.bg[2] - c.yAxisX, c.bg[1] + c.bg[3] - c.axisTop));
  if (c.modelPort) {
    drawSeries(lg, c.modelPort, x, y, COL.bModel, 1);
    drawSeries(lg, c.modelStbd, x, y, COL.bModel, 1);
  }
  drawSeries(lg, c.port, x, y, COL.bRed, 1.1);
  drawSeries(lg, c.stbd, x, y, COL.bGreen, 1.1);
}

// ---------- white caption boxes ----------
function labelBox(b, text, fs) {
  svg.append("rect").attr("x", b[0] + 0.5).attr("y", b[1] + 0.5).attr("width", b[2]).attr("height", b[3])
    .attr("fill", "#fff").attr("stroke", "#000").attr("stroke-width", 1);
  svg.append("text").attr("x", b[0] + b[2] / 2).attr("y", b[1] + b[3] / 2 + 1).attr("text-anchor", "middle")
    .attr("dominant-baseline", "central").attr("font-family", BOX_FONT).attr("font-size", fs || 18.3)
    .style("white-space", "pre").attr("fill", "#000").text(text);
}
function paramBox(b, rows, lx, rx, vals) {
  svg.append("rect").attr("x", b[0] + 0.5).attr("y", b[1] + 0.5).attr("width", b[2]).attr("height", b[3])
    .attr("fill", "#fff").attr("stroke", "#000").attr("stroke-width", 1);
  const t = svg.append("g").attr("font-family", BOX_FONT).attr("font-size", 15).attr("fill", "#000");
  leftParamNames.forEach((n, i) => t.append("text").attr("x", lx).attr("y", rows[i]).attr("dominant-baseline", "central").text(n + ": " + vals[i]));
  rightParamNames.forEach((n, i) => t.append("text").attr("x", rx).attr("y", rows[i]).attr("dominant-baseline", "central").text(n + ": " + vals[5 + i]));
}

// ===================== layout =====================
greyPanel({bg: [25, 23, 520, 229], x0: 60, x1: 531, yB: 216.3, yT: 33.7, top: 31,
  yTicks: d3.range(-12, -45, -2), fs: 7.5, xPad: 6, angleY: 237, modelX: 37, modelY: 122, mw: 1.2,
  modelPort: coarseSiltModelPort, modelStbd: coarseSiltModelStbd, port: coarseSiltPort, stbd: coarseSiltStbd});
greyPanel({bg: [32, 437, 524, 203], x0: 63.3, x1: 539, yB: 614.4, yT: 455.7, top: 445,
  yTicks: d3.range(0, -41, -5), fs: 7.5, xPad: 6, angleY: 631, modelX: 41.7, modelY: 528, mw: 1.2,
  modelPort: fineSandModelPort, modelStbd: fineSandModelStbd, port: fineSandPort, stbd: fineSandStbd});
greyPanel({bg: [27, 806, 538, 220], x0: 70.8, x1: 544, yB: 983, yT: 839.4, top: 819,
  yTicks: d3.range(-10, -41, -5), fs: 10.5, xPad: 7, angleY: 1011, modelX: 42, modelY: 903, mw: 2,
  modelPort: veryFineModelPort, modelStbd: veryFineModelStbd, port: veryFinePort, stbd: veryFineStbd});
greyPanel({bg: [28, 1210, 520, 205], x0: 59.7, x1: 533.7, yB: 1388.3, yT: 1226.7, top: 1218,
  yTicks: d3.range(-14, -45, -2), fs: 7.5, xPad: 6, angleY: 1405, modelX: 39.7, modelY: 1303, mw: 1.2,
  modelPort: mediumSiltModelPort, modelStbd: mediumSiltModelStbd, port: mediumSiltPort, stbd: mediumSiltStbd});

blackPanel({bg: [609, 23, 478, 295], xL: 644.2, xR: 1073.2, y50: 294, y10: 105, yAxisX: 648, axisTop: 58,
  tickStart: 668, titleY: 35, yTitleX: 618, yTitleY: 190, angleLabels: [-10, 0, 10, 90], dbLabels: [-2, -10, -50],
  modelPort: fineSandAModelPort, modelStbd: fineSandAModelStbd, port: fineSandAPort, stbd: fineSandAStbd});
blackPanel({bg: [606, 386, 481, 279], xL: 646.4, xR: 1075, y50: 660, y10: 470, yAxisX: 648.5, axisTop: 423,
  titleY: 400, yTitleX: 620, yTitleY: 555, angleLabels: [-10, 0, 10, 90], dbLabels: [-10, -50],
  port: fineSandBPort, stbd: fineSandBStbd});
blackPanel({bg: [582, 765, 507, 298], xL: 623.8, xR: 1066.2, y50: 1046.7, y10: 850.7, yAxisX: 627, axisTop: 801.7,
  titleY: 777, yTitleX: 595, yTitleY: 938, angleLabels: [-90, -10, 0, 10, 90], dbLabels: [-10, -50],
  modelPort: fineSandCModelPort, modelStbd: fineSandCModelStbd, port: fineSandCPort, stbd: fineSandCStbd});
blackPanel({bg: [578, 1175, 511, 310], xL: 619.9, xR: 1074.7, y50: 1467.7, y10: 1267.7, yAxisX: 625, axisTop: 1218,
  tickStart: 634, titleY: 1192, yTitleX: 591, yTitleY: 1352, angleLabels: [-10, 0, 10, 90], dbLabels: [-2, -10, -50],
  port: veryCoarsePort, stbd: veryCoarseStbd});

labelBox([434, 23, 277, 41], rowTitles[0], 18.8);
labelBox([445, 401, 273, 41], rowTitles[1]);
labelBox([450, 806, 272, 40], rowTitles[2]);
labelBox([445, 1178, 272, 41], rowTitles[3]);
labelBox([345, 172, 152, 41], modelClasses[0]);
labelBox([404, 459, 118, 42], modelClasses[1]);
labelBox([413, 926, 149, 42], modelClasses[2]);
labelBox([357, 1223, 156, 41], modelClasses[3]);
labelBox([911, 66, 113, 41], observedClasses[0]);
labelBox([922, 450, 114, 40], observedClasses[1]);
labelBox([896, 852, 160, 41], observedClasses[2]);
labelBox([886, 1221, 184, 40], observedClasses[3]);

paramBox([33, 252, 418, 124], [270, 293, 316, 339, 362], 43, 301, coarseSiltParams);
paramBox([663, 255, 425, 122], [272, 295, 318, 341, 364], 678, 936, fineSandAParams);
paramBox([33, 640, 422, 125], [658, 681, 704, 727, 750], 47, 305, fineSandParams);
paramBox([668, 627, 420, 121], [644, 668, 691, 714, 737], 681, 939, fineSandBParams);
paramBox([28, 1026, 421, 124], [1043, 1066, 1089, 1112, 1135], 42, 300, veryFineParams);
paramBox([666, 1030, 422, 123], [1047, 1070, 1093, 1116, 1139], 680, 938, fineSandCParams);
paramBox([28, 1418, 420, 120], [1432, 1455, 1478, 1501, 1524], 41, 299, mediumSiltParams);
paramBox([668, 1418, 420, 122], [1434, 1457, 1480, 1503, 1526], 682, 940, veryCoarseParams);
</script>
</body></html>
